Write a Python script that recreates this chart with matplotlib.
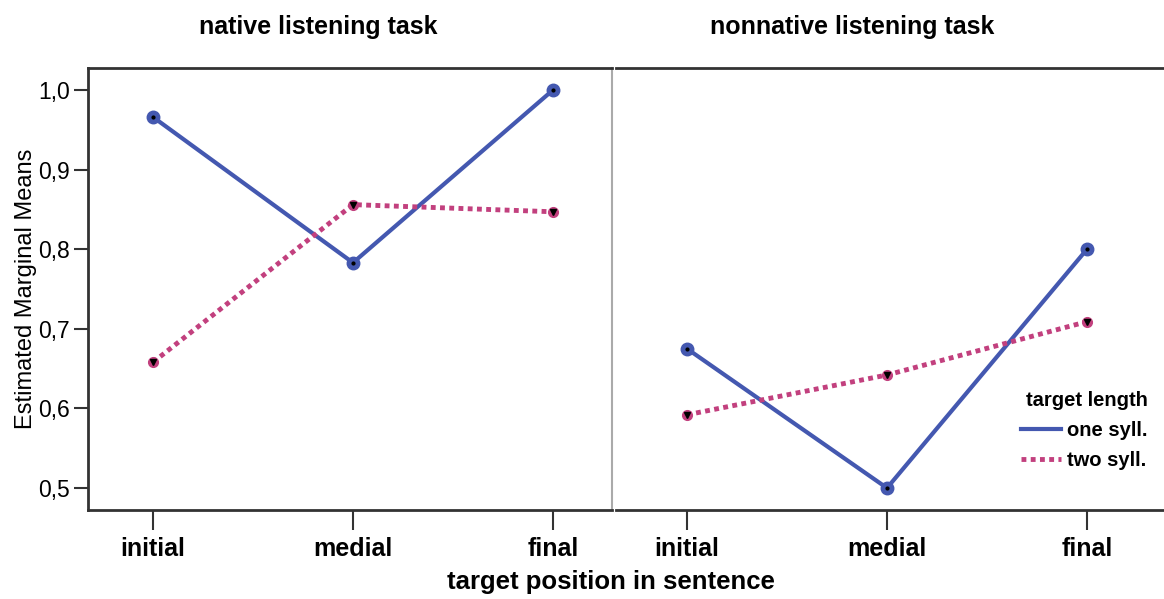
import matplotlib.pyplot as plt

plt.rcParams['font.family'] = ['Liberation Sans', 'DejaVu Sans']

positions = ["initial", "medial", "final"]
panels = ["native listening task", "nonnative listening task"]
yticks = [0.5, 0.6, 0.7, 0.8, 0.9, 1.0]
ytick_labels = ["0,5", "0,6", "0,7", "0,8", "0,9", "1,0"]

native_one = [0.966, 0.783, 1.000]
native_two = [0.658, 0.856, 0.847]
nonnative_one = [0.675, 0.500, 0.800]
nonnative_two = [0.592, 0.642, 0.709]

blue = '#4458b0'
pink = '#c2407e'

fig = plt.figure(figsize=(11.64, 5.99), dpi=100)
W, H = 1164, 599
ax1 = fig.add_axes([88 / W, 1 - 510 / H, 524 / W, 442 / H])
ax2 = fig.add_axes([616 / W, 1 - 510 / H, 600 / W, 442 / H])

x = range(len(positions))
for ax, one, two in [(ax1, native_one, native_two), (ax2, nonnative_one, nonnative_two)]:
    ax.plot(x, one, color=blue, lw=3, marker='o', ms=9, label='one syll.', zorder=3)
    ax.plot(x, one, ls='none', marker='o', ms=2, color='black', zorder=4)
    ax.plot(x, two, color=pink, lw=3.5, ls=(0, (1, 0.9)), marker='o', ms=7,
            label='two syll.', zorder=3)
    ax.plot(x, two, ls='none', marker='v', ms=4, color='black', zorder=4)
    ax.set_ylim(0.4724, 1.0276)
    ax.set_xticks(list(x))
    ax.set_xticklabels(positions, fontsize=18, fontweight='bold')
    ax.tick_params(axis='x', length=14.5, width=1.5, color='#333333', pad=5)
    for s in ['top', 'bottom', 'left']:
        ax.spines[s].set_linewidth(2)
        ax.spines[s].set_color('#333333')

ax1.set_xlim(-0.325, 2.295)
ax2.set_xlim(-0.355, 2.645)
ax1.spines['right'].set_color('#aaaaaa')
ax1.spines['right'].set_linewidth(1.5)
ax2.spines['left'].set_visible(False)
ax2.spines['right'].set_visible(False)
ax2.set_yticks([])

ax1.set_yticks(yticks)
ax1.set_yticklabels(ytick_labels, fontsize=16.5)
ax1.tick_params(axis='y', length=10, width=1.5, color='#333333', pad=3)
ax1.set_ylabel('Estimated Marginal Means', fontsize=17, labelpad=1)

fig.text(318 / W, 1 - 27 / H, panels[0], fontsize=18, fontweight='bold',
         ha='center', va='center')
fig.text(852 / W, 1 - 27 / H, panels[1], fontsize=18, fontweight='bold',
         ha='center', va='center')

leg = ax2.legend(title='target length', loc='upper left', bbox_to_anchor=(0.675, 0.27),
                 frameon=False, handlelength=2.0, handletextpad=0.3, labelspacing=0.55,
                 borderpad=0, borderaxespad=0, markerscale=0,
                 prop={'size': 14.5, 'weight': 'bold'},
                 title_fontproperties={'size': 14.5, 'weight': 'bold'})
leg._legend_box.align = 'right'

fig.text(611 / W, 1 - 582 / H, 'target position in sentence', fontsize=18.5,
         fontweight='bold', ha='center', va='center')

fig.savefig('out.png', dpi=100)
